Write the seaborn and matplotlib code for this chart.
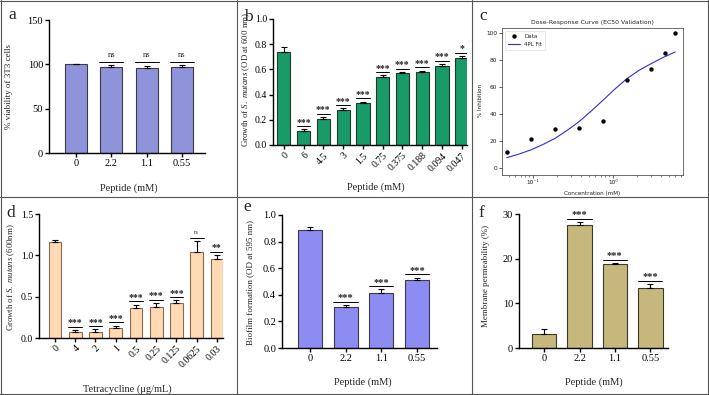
import numpy as np
import pandas as pd
import matplotlib
matplotlib.use("Agg")
import matplotlib.pyplot as plt
from matplotlib.lines import Line2D
import seaborn as sns

# ---------------- data ----------------
a_cats = ["0", "2.2", "1.1", "0.55"]
a_vals = [100, 97, 96, 97]
a_errs = [0, 2.5, 2.5, 2.5]
a_sig = ["", "ns", "ns", "ns"]

b_cats = ["0", "6", "4.5", "3", "1.5", "0.75", "0.375", "0.188", "0.094", "0.047"]
b_vals = [0.74, 0.11, 0.21, 0.28, 0.335, 0.54, 0.57, 0.58, 0.625, 0.69]
b_errs = [0.035, 0.015, 0.012, 0.01, 0.01, 0.012, 0.008, 0.01, 0.02, 0.015]
b_sig = ["", "***", "***", "***", "***", "***", "***", "***", "***", "*"]

c_conc = [0.047, 0.094, 0.188, 0.375, 0.75, 1.5, 3, 4.5, 6]
c_inhib = [11.8, 21.8, 28.9, 29.9, 34.8, 65.2, 73.0, 84.8, 100.0]
c_fit_x = [0.047, 0.0665, 0.094, 0.133, 0.188, 0.265, 0.375, 0.53, 0.75,
           1.06, 1.5, 2.12, 3, 4.24, 6]
c_fit_y = [7.8, 10.4, 13.5, 17.5, 22.0, 27.8, 34.3, 42.0, 50.2,
           58.5, 66.2, 72.3, 77.2, 81.8, 85.8]
c_xticks = [0.1, 1]
c_xticklabels = ["10\u207b\u00b9", "10\u2070"]

d_cats = ["0", "4", "2", "1", "0.5", "0.25", "0.125", "0.0625", "0.03"]
d_vals = [1.16, 0.07, 0.075, 0.12, 0.365, 0.38, 0.425, 1.035, 0.96]
d_errs = [0.02, 0.025, 0.03, 0.03, 0.04, 0.045, 0.03, 0.135, 0.045]
d_sig = ["", "***", "***", "***", "***", "***", "***", "ns", "**"]

e_cats = ["0", "2.2", "1.1", "0.55"]
e_vals = [0.89, 0.31, 0.415, 0.515]
e_errs = [0.02, 0.015, 0.025, 0.015]
e_sig = ["", "***", "***", "***"]

f_cats = ["0", "2.2", "1.1", "0.55"]
f_vals = [3.2, 27.6, 18.8, 13.5]
f_errs = [1.0, 0.6, 0.25, 0.8]
f_sig = ["", "***", "***", "***"]

# ---------------- style ----------------
sns.set_style("ticks")
plt.rcParams["font.family"] = ["Liberation Serif", "DejaVu Sans"]
plt.rcParams["mathtext.fontset"] = "custom"
plt.rcParams["mathtext.rm"] = "Liberation Serif"
plt.rcParams["mathtext.it"] = "Liberation Serif:italic"

W, H = 709, 395
fig = plt.figure(figsize=(W / 100, H / 100), dpi=100)
fig.patch.set_facecolor("white")


def ax_px(l, t, r, b):
    return fig.add_axes([l / W, 1 - b / H, (r - l) / W, (b - t) / H])


def bar_panel(box, cats, vals, errs, sigs, color, edge, xlim, ylim, yticks,
              yfmt, width, xlabel, ylabel, xl_pos, yl_pos, rot=False,
              tickfs=7.5, labfs=7.5, ylabfs=6.5, starfs=7.5, nsfs=6):
    ax = ax_px(*box)
    df = pd.DataFrame({"x": cats, "y": vals})
    sns.barplot(data=df, x="x", y="y", order=cats, color=color, saturation=1,
                width=width, edgecolor=edge, linewidth=0.8, errorbar=None, ax=ax)
    pos = np.arange(len(cats))
    ax.errorbar(pos, vals, yerr=[np.zeros(len(vals)), errs], fmt="none",
                ecolor="black", elinewidth=0.8, capsize=2.2, capthick=0.8, zorder=3)
    ax.set_xlim(*xlim)
    ax.set_ylim(*ylim)
    ax.set_yticks(yticks)
    ax.set_yticklabels([yfmt.format(v) for v in yticks])
    hpx = box[3] - box[1]
    dpp = (ylim[1] - ylim[0]) / hpx
    for i, s in enumerate(sigs):
        if not s:
            continue
        top = vals[i] + errs[i]
        ly = top + 3.2 * dpp
        ax.plot([i - 0.34, i + 0.34], [ly, ly], color="black", lw=0.7)
        if s == "ns":
            ax.text(i, ly + 3.0 * dpp, s, ha="center", va="bottom", fontsize=nsfs)
        else:
            ax.text(i, ly - 0.5 * dpp, s, ha="center", va="bottom",
                    fontsize=starfs, fontweight="bold")
    sns.despine(ax=ax)
    for sp in ["left", "bottom"]:
        ax.spines[sp].set_linewidth(1.0)
        ax.spines[sp].set_color("black")
    ax.tick_params(axis="both", direction="out", length=2.8, width=1.0,
                   labelsize=tickfs, colors="black", pad=1.5)
    if rot:
        for lab in ax.get_xticklabels():
            lab.set_rotation(45)
            lab.set_ha("right")
            lab.set_rotation_mode("anchor")
    ax.set_xlabel(xlabel, fontsize=labfs)
    ax.set_ylabel(ylabel, fontsize=ylabfs)
    ax.xaxis.set_label_coords(*xl_pos)
    ax.yaxis.set_label_coords(*yl_pos)
    ax.set_facecolor("white")
    return ax


# a
bar_panel((49, 20, 205, 153), a_cats, a_vals, a_errs, a_sig, "#8F93D9", "#3a3a4a",
          (-0.76, 3.65), (0, 150), [0, 50, 100, 150], "{:.0f}", 0.62,
          "Peptide (mM)", "% viability of 3T3 cells", (0.51, -0.225), (-0.23, 0.5))

# b
bar_panel((273, 19, 467, 145), b_cats, b_vals, b_errs, b_sig, "#199A69", "#1f3a2a",
          (-0.55, 9.27), (0, 1.0), [0, 0.2, 0.4, 0.6, 0.8, 1.0], "{:.1f}", 0.67,
          "Peptide (mM)", r"Growth of $\mathit{S.\ mutans}$ (OD at 600 nm)",
          (0.53, -0.30), (-0.11, 0.52), rot=True, tickfs=7, ylabfs=6.4, starfs=7)

# d
bar_panel((39, 214, 223, 338), d_cats, d_vals, d_errs, d_sig, "#FFDAB4", "#8a6a4a",
          (-0.79, 8.3), (0, 1.5), [0, 0.5, 1.0, 1.5], "{:.1f}", 0.63,
          "Tetracycline (\u03bcg/mL)", r"Growth of $\mathit{S.\ mutans}$ (600nm)",
          (0.48, -0.375), (-0.12, 0.49), rot=True, tickfs=7, ylabfs=6.3, starfs=7,
          nsfs=4)

# e
bar_panel((282, 215, 437, 348), e_cats, e_vals, e_errs, e_sig, "#8C8CF2", "#3a3a4a",
          (-0.78, 3.56), (0, 1.0), [0, 0.2, 0.4, 0.6, 0.8, 1.0], "{:.1f}", 0.67,
          "Peptide (mM)", "Biofilm formation (OD at 595 nm)",
          (0.52, -0.22), (-0.18, 0.49))

# f
bar_panel((519, 214, 668, 348), f_cats, f_vals, f_errs, f_sig, "#C6B87C", "#3a3a2a",
          (-0.71, 3.5), (0, 30), [0, 10, 20, 30], "{:.0f}", 0.69,
          "Peptide (mM)", "Membrane permeability (%)",
          (0.50, -0.22), (-0.195, 0.54))

# c
axc = ax_px(502, 28, 683, 175)
axc.set_xscale("log")
sns.scatterplot(x=c_conc, y=c_inhib, color="black", s=10, linewidth=0,
                label="Data", ax=axc, zorder=3)
sns.lineplot(x=c_fit_x, y=c_fit_y, color="#2f2fd0", lw=0.8, label="4PL Fit",
             ax=axc)
axc.set_xlim(0.041, 7.5)
axc.set_ylim(-5, 103.5)
axc.set_yticks([0, 20, 40, 60, 80, 100])
axc.set_xticks(c_xticks)
axc.set_xticklabels(c_xticklabels)
for sp in axc.spines.values():
    sp.set_linewidth(0.5)
    sp.set_color("#333333")
axc.tick_params(axis="both", which="major", length=2, width=0.5, labelsize=4.2,
                pad=1.5, colors="#222222")
axc.tick_params(axis="x", which="minor", length=1.2, width=0.4)
for lab in axc.get_xticklabels() + axc.get_yticklabels():
    lab.set_fontfamily("DejaVu Sans")
axc.set_title("Dose-Response Curve (EC50 Validation)", fontsize=4.4,
              fontfamily="DejaVu Sans", pad=3)
axc.set_xlabel("Concentration (mM)", fontsize=4.1, fontfamily="DejaVu Sans")
axc.set_ylabel("% Inhibition", fontsize=4.1, fontfamily="DejaVu Sans")
axc.xaxis.set_label_coords(0.50, -0.11)
axc.yaxis.set_label_coords(-0.105, 0.51)
leg = axc.legend(loc="upper left", frameon=True,
                 handlelength=2.2, borderpad=0.5, labelspacing=0.6,
                 prop={"family": "DejaVu Sans", "size": 4.0})
leg.get_frame().set_linewidth(0.4)

# panel letters
for txt, x, y in [("a", 12, 19), ("b", 248, 21), ("c", 483, 20),
                  ("d", 11, 217), ("e", 247, 211), ("f", 481, 217)]:
    fig.text(x / W, 1 - y / H, txt, fontsize=12.5, ha="center", va="baseline",
             fontfamily="Liberation Serif")

# panel borders
for xv in [0.5, 236.5, 472, 707.5]:
    fig.add_artist(Line2D([xv / W, xv / W], [0, 1], color="#555555", lw=0.8))
for yv in [0.5, 196.5, 393.5]:
    fig.add_artist(Line2D([0, 1], [1 - yv / H, 1 - yv / H], color="#555555", lw=0.8))

fig.savefig("out.png", dpi=100, facecolor="white")
